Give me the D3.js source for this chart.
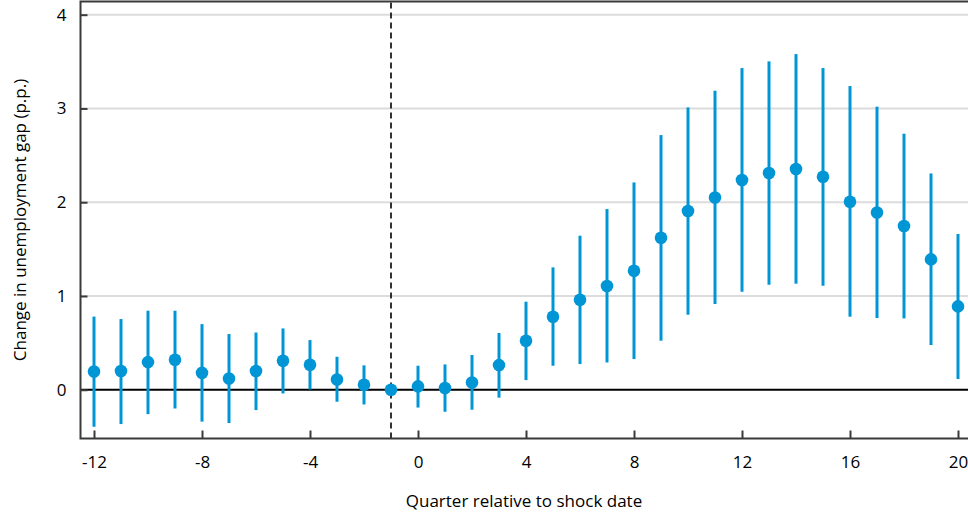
<!DOCTYPE html>
<html>
<head>
<meta charset="utf-8">
<script src="https://cdn.jsdelivr.net/npm/d3@7"></script>
<style>
  html, body { margin: 0; padding: 0; background: #fff; }
  svg { display: block; font-family: "Open Sans", sans-serif; }
</style>
</head>
<body>
<svg id="chart" width="968" height="516"></svg>
<script>
// quarters relative to the shock, point estimates and confidence bands
const quarters = [-12,-11,-10,-9,-8,-7,-6,-5,-4,-3,-2,-1,0,1,2,3,4,5,6,7,8,9,10,11,12,13,14,15,16,17,18,19,20];
const estimate = [0.195,0.20,0.295,0.32,0.18,0.12,0.20,0.31,0.267,0.11,0.053,0.0,0.036,0.018,0.078,0.263,0.523,0.779,0.96,1.106,1.269,1.621,1.906,2.051,2.237,2.311,2.354,2.272,2.005,1.891,1.746,1.39,0.889];
const upper = [0.78,0.754,0.843,0.843,0.70,0.594,0.61,0.654,0.53,0.352,0.26,0.0,0.256,0.27,0.37,0.605,0.939,1.305,1.643,1.927,2.211,2.716,3.011,3.189,3.431,3.502,3.58,3.431,3.239,3.019,2.731,2.307,1.661];
const lower = [-0.395,-0.366,-0.26,-0.20,-0.34,-0.355,-0.217,-0.04,0.003,-0.128,-0.157,0.0,-0.19,-0.235,-0.213,-0.085,0.103,0.256,0.274,0.291,0.327,0.523,0.80,0.914,1.045,1.12,1.131,1.109,0.779,0.765,0.761,0.477,0.114];
const xTicks = [-12,-8,-4,0,4,8,12,16,20];
const yTicks = [0,1,2,3,4];
const shockQuarter = -1;

const svg = d3.select("#chart");
const blue = "#0096d6";
const fontSize = "17px";

const x = d3.scaleLinear().domain([-12.5, 20.5]).range([80.5, 971.5]);
const y = d3.scaleLinear().domain([-0.52, 4.13]).range([438.5, 2.5]);

// gridlines
svg.append("g").selectAll("line")
  .data(yTicks.filter(d => d !== 0))
  .join("line")
  .attr("x1", x.range()[0]).attr("x2", 968)
  .attr("y1", d => y(d)).attr("y2", d => y(d))
  .attr("stroke", "#dcdcdc").attr("stroke-width", 2);

// zero line
svg.append("line")
  .attr("x1", x.range()[0]).attr("x2", 968)
  .attr("y1", y(0)).attr("y2", y(0))
  .attr("stroke", "#000").attr("stroke-width", 2);

// shock date
svg.append("line")
  .attr("x1", x(shockQuarter)).attr("x2", x(shockQuarter))
  .attr("y1", y.range()[1]).attr("y2", y.range()[0])
  .attr("stroke", "#000").attr("stroke-width", 1.6)
  .attr("stroke-dasharray", "6,4");

// frame: top, left and bottom
svg.append("path")
  .attr("d", `M968,${y.range()[1] - 1}H${x.range()[0]}V${y.range()[0]}H968`)
  .attr("fill", "none").attr("stroke", "#3a3a3a").attr("stroke-width", 2);

// axes (inner ticks), plain hyphen for negatives
const fmt = d => String(d);
const xAxis = d3.axisBottom(x).tickValues(xTicks).tickSize(-8).tickPadding(17).tickFormat(fmt);
const gx = svg.append("g").attr("transform", `translate(0,${y.range()[0]})`).call(xAxis);
const yAxis = d3.axisLeft(y).tickValues(yTicks).tickSize(-7).tickPadding(14).tickFormat(fmt);
const gy = svg.append("g").attr("transform", `translate(${x.range()[0]},0)`).call(yAxis);
[gx, gy].forEach(g => {
  g.select(".domain").remove();
  g.selectAll(".tick line").attr("stroke", "#3a3a3a").attr("stroke-width", 2);
  g.selectAll(".tick text").attr("fill", "#000").style("font-size", fontSize).style("font-family", "'Open Sans', sans-serif");
});

// error bars
const rows = quarters.map((q, i) => ({ q, est: estimate[i], lo: lower[i], hi: upper[i] }));
svg.append("g").selectAll("line")
  .data(rows.filter(d => d.hi !== d.lo))
  .join("line")
  .attr("x1", d => x(d.q)).attr("x2", d => x(d.q))
  .attr("y1", d => y(d.lo)).attr("y2", d => y(d.hi))
  .attr("stroke", blue).attr("stroke-width", 3);

// points
svg.append("g").selectAll("circle")
  .data(rows)
  .join("circle")
  .attr("cx", d => x(d.q)).attr("cy", d => y(d.est))
  .attr("r", 6.3).attr("fill", blue);

// axis titles
svg.append("text")
  .attr("x", 524).attr("y", 507)
  .attr("text-anchor", "middle")
  .style("font-size", fontSize)
  .text("Quarter relative to shock date");

svg.append("text")
  .attr("transform", "translate(26,220) rotate(-90)")
  .attr("text-anchor", "middle")
  .style("font-size", fontSize)
  .text("Change in unemployment gap (p.p.)");
</script>
</body>
</html>
